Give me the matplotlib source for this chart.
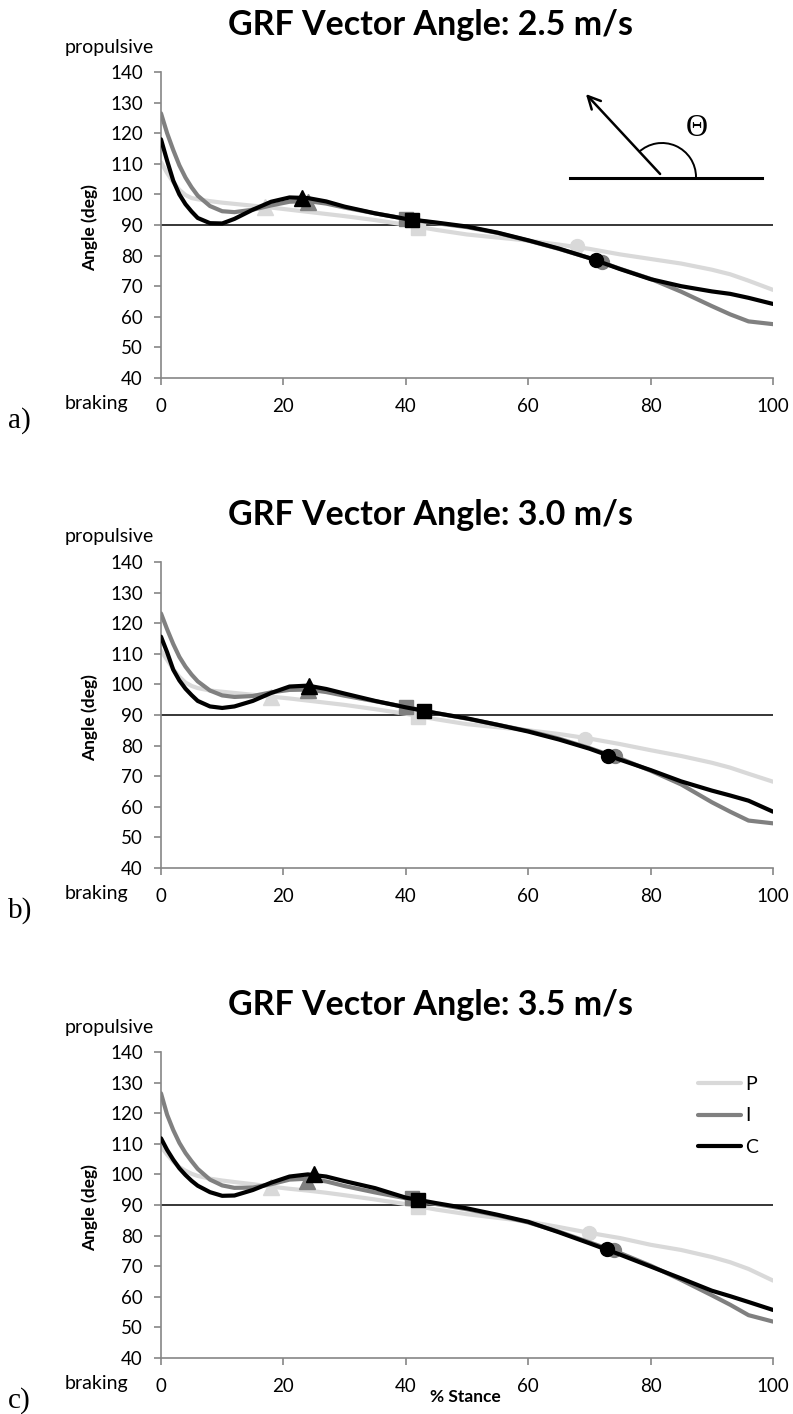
import numpy as np
import matplotlib
matplotlib.use("Agg")
import matplotlib.pyplot as plt
from matplotlib.patches import Arc

plt.rcParams['font.family'] = ['Lato', 'DejaVu Sans']

W, H = 793, 1414

# % stance sample points shared by all curves
stance = [0, 1, 2, 3, 4, 5, 6, 8, 10, 12, 15, 18, 21, 24, 27, 30, 35, 40, 45, 50,
          55, 60, 65, 70, 75, 80, 85, 90, 93, 96, 100]

speeds = ['2.5', '3.0', '3.5']
panel_tags = ['a)', 'b)', 'c)']
series_names = ['P', 'I', 'C']
series_colors = ['#d9d9d9', '#808080', '#000000']

# panel a) 2.5 m/s
p_25 = [110.5, 107, 104, 101.5, 99.8, 98.8, 98.4, 97.8, 97.3, 96.9, 96.3, 95.7, 95.0, 94.3, 93.6,
        92.9, 91.6, 90.1, 88.4, 86.9, 85.9, 84.9, 83.6, 82.2, 80.4, 78.9, 77.4, 75.4, 73.9, 71.8, 68.8]
i_25 = [126.5, 120, 114.5, 109.5, 105.5, 102.3, 99.6, 96.2, 94.5, 94.2, 95.0, 96.4, 97.6, 97.8, 97.0,
        95.7, 93.8, 92.0, 90.6, 89.3, 87.4, 84.9, 82.2, 79.2, 75.7, 72.4, 68.2, 63.5, 60.8, 58.5, 57.6]
c_25 = [118, 111, 104.5, 100, 96.8, 94.4, 92.3, 90.6, 90.5, 92.0, 95.0, 97.6, 99.0, 98.8, 97.7,
        96.0, 93.8, 92.0, 90.8, 89.5, 87.5, 85.0, 82.3, 79.2, 75.6, 72.3, 70.0, 68.3, 67.5, 66.2, 64.2]

# panel b) 3.0 m/s
p_30 = [111, 108, 105, 102.5, 100.6, 99.5, 98.8, 98.0, 97.6, 97.2, 96.6, 96.0, 95.4, 94.7, 94.0,
        93.3, 91.9, 90.4, 88.6, 87.0, 86.0, 85.0, 83.8, 82.3, 80.5, 78.5, 76.6, 74.4, 72.8, 70.8, 68.2]
i_30 = [123.2, 118, 113.2, 109, 105.8, 103.2, 101, 98, 96.4, 95.9, 96.2, 97.4, 98.2, 98.3, 97.5,
        96.3, 94.5, 92.6, 90.6, 88.8, 86.8, 84.8, 82.3, 79.2, 75.8, 71.8, 67.3, 61.5, 58.4, 55.5, 54.6]
c_30 = [115.6, 110.5, 104.8, 101.3, 98.6, 96.5, 94.6, 92.8, 92.3, 92.8, 94.6, 97.2, 99.3, 99.6, 98.5,
        97.0, 94.6, 92.5, 90.6, 88.9, 86.8, 84.6, 82.0, 79.0, 75.4, 72.0, 68.3, 65.3, 63.7, 62.0, 58.4]

# panel c) 3.5 m/s
p_35 = [109, 106.5, 104.2, 102.4, 101.2, 100.2, 99.5, 98.6, 98.0, 97.5, 96.8, 96.0, 95.3, 94.7, 94.0,
        93.2, 91.8, 90.3, 88.5, 87.0, 85.8, 84.6, 82.8, 80.9, 79.2, 77.0, 75.3, 73.0, 71.3, 69.1, 65.3]
i_35 = [126.5, 119.5, 114.5, 110.3, 107, 104.3, 101.8, 98.3, 96.4, 95.6, 95.7, 96.8, 98.3, 98.6, 97.7,
        96.2, 94.1, 92.2, 90.3, 88.6, 86.6, 84.3, 81.3, 77.8, 74.3, 70.2, 65.5, 60.5, 57.4, 54.0, 51.9]
c_35 = [111.8, 108, 104.8, 102, 99.8, 97.9, 96.3, 94.2, 93.0, 93.1, 94.9, 97.3, 99.3, 100.0, 99.3,
        97.8, 95.5, 92.4, 90.6, 88.9, 86.8, 84.5, 81.1, 77.5, 73.8, 69.9, 66.0, 62.0, 60.2, 58.3, 55.7]

curves = [[p_25, i_25, c_25], [p_30, i_30, c_30], [p_35, i_35, c_35]]

# event markers (x, y) per panel per series: triangle, square, circle
tri_x = [[17, 24, 23], [18, 24, 24.2], [18, 23.8, 25]]
tri_y = [[95.8, 97.6, 98.8], [95.8, 98.2, 99.6], [96.0, 97.8, 100.0]]
sq_x = [[42, 40, 41], [42, 40.1, 43], [42, 41, 42]]
sq_y = [[89.0, 91.8, 91.6], [89.2, 92.7, 91.4], [89.2, 92.2, 91.5]]
ci_x = [[68, 72, 71], [69.2, 74.2, 73], [70, 74, 72.8]]
ci_y = [[83.0, 78.0, 78.6], [82.0, 76.6, 76.6], [80.9, 75.2, 75.6]]

y_ticks = [40, 50, 60, 70, 80, 90, 100, 110, 120, 130, 140]
x_ticks = [0, 20, 40, 60, 80, 100]

# panel pixel frames
ax_left, ax_right = 161, 773
tops = [72, 562, 1052]
bottoms = [378, 868, 1358]

fig = plt.figure(figsize=(W / 100, H / 100), dpi=100)


def fx(x):
    return x / W


def fy(y):
    return 1 - y / H


axes = []
for k in range(3):
    ax = fig.add_axes([fx(ax_left), fy(bottoms[k]), (ax_right - ax_left) / W,
                       (bottoms[k] - tops[k]) / H])
    axes.append(ax)
    ax.set_xlim(0, 100)
    ax.set_ylim(40, 140)
    ax.set_xticks(x_ticks)
    ax.set_yticks(y_ticks)
    ax.tick_params(axis='both', direction='out', length=5, width=1.2, color='#868686',
                   labelsize=13.5)
    ax.tick_params(axis='y', pad=8)
    ax.tick_params(axis='x', pad=9.5)
    for s in ['top', 'right']:
        ax.spines[s].set_visible(False)
    for s in ['left', 'bottom']:
        ax.spines[s].set_color('#868686')
        ax.spines[s].set_linewidth(1.2)
    ax.axhline(90, color='black', lw=1.1, zorder=1)

    for j in range(3):
        col = series_colors[j]
        ax.plot(stance, curves[k][j], color=col, lw=3.0, solid_capstyle='round',
                solid_joinstyle='round', label=series_names[j], zorder=2 + 2 * j)
        ax.plot(tri_x[k][j], tri_y[k][j], marker='^', ms=11, color=col, ls='none', zorder=3 + 2 * j)
        ax.plot(sq_x[k][j], sq_y[k][j], marker='s', ms=10, color=col, ls='none', zorder=3 + 2 * j)
        ax.plot(ci_x[k][j], ci_y[k][j], marker='o', ms=10, color=col, ls='none', zorder=3 + 2 * j)

    fig.text(fx(430), fy(tops[k] - 47), 'GRF Vector Angle: ' + speeds[k] + ' m/s',
             ha='center', va='center', fontsize=24.5, fontweight='bold')
    fig.text(fx(65), fy(tops[k] - 25), 'propulsive', ha='left', va='center', fontsize=14)
    fig.text(fx(65), fy(bottoms[k] + 25), 'braking', ha='left', va='center', fontsize=14)
    fig.text(fx(8), fy(bottoms[k] + 43), panel_tags[k], ha='left', va='center', fontsize=21,
             family=['Liberation Serif', 'DejaVu Serif'])
    ax.text((90 - ax_left) / (ax_right - ax_left), 0.49, 'Angle (deg)', rotation=90,
            ha='center', va='center', fontsize=12.5, fontweight='bold', transform=ax.transAxes)

fig.text(fx(465), fy(1397), '% Stance', ha='center', va='center', fontsize=12.5, fontweight='bold')

leg = axes[2].legend(loc='upper left', bbox_to_anchor=(fx(688), fy(1066)),
                     bbox_transform=fig.transFigure, frameon=False, fontsize=14,
                     handlelength=2.2, handletextpad=0.25, labelspacing=0.75, borderpad=0)

# force-vector sketch in panel a
ov = fig.add_axes([0, 0, 1, 1], facecolor='none')
ov.set_xlim(0, W)
ov.set_ylim(H, 0)
ov.axis('off')
ov.plot([570, 762], [178, 178], color='black', lw=2.2)
ov.annotate('', xy=(584, 92), xytext=(662, 176),
            arrowprops=dict(arrowstyle='->,head_length=0.9,head_width=0.45', lw=1.8, color='black'))
ov.add_patch(Arc((662, 177), 68, 68, theta1=-133, theta2=0, color='black', lw=1.4))
ov.text(697, 129, 'Θ', ha='center', va='center', fontsize=22, family=['Liberation Serif', 'DejaVu Serif'])

fig.savefig('out.png', dpi=100)
